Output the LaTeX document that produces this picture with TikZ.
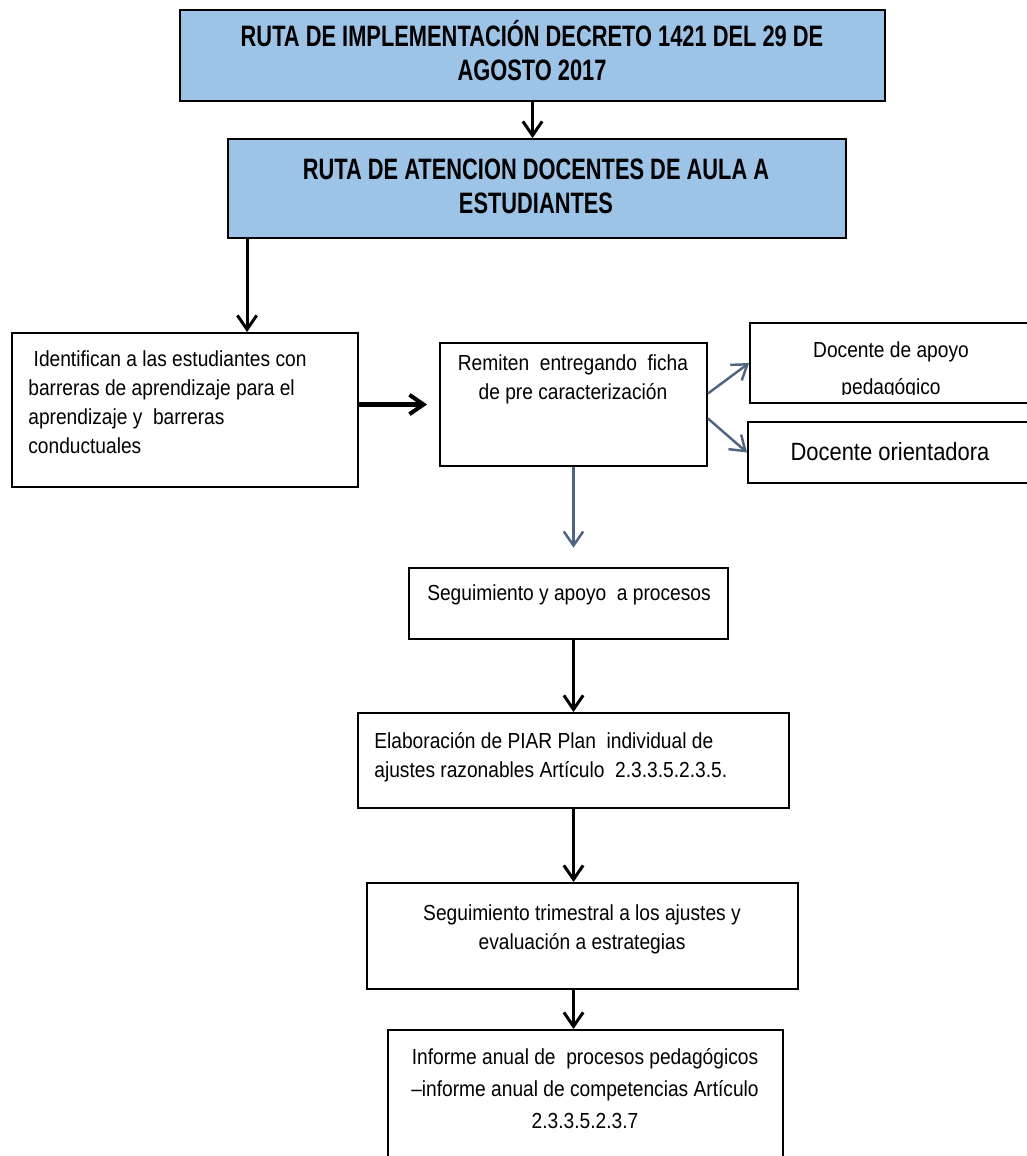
\documentclass[tikz,border=0pt]{standalone}
\usepackage{fontspec}
\newfontfamily\boxfont[FakeStretch=0.88]{Liberation Sans}
\newfontfamily\headfont[FakeStretch=0.74]{Liberation Sans}
\usepackage{tikz}
\usetikzlibrary{%
   arrows.meta,%
   calc,%
   fit,%
   positioning}
\definecolor{routeblue}{RGB}{157,195,230}
\definecolor{slatearrow}{RGB}{80,100,130}

\begin{document}
\begin{tikzpicture}
			[x=0.02cm,y=-0.02cm,
			plain box/.style= {rectangle,draw=black,line width=1.1pt,inner sep=0pt},
			blue box/.style= {plain box,fill=routeblue},
			box text/.style= {font=\boxfont\fontsize{12.4}{16.5}\selectfont,align=center,inner sep=0pt},
			head text/.style= {font=\headfont\bfseries\fontsize{16.8}{19.3}\selectfont,align=center,inner sep=0pt},
			flow arrow/.style= {-{Straight Barb[length=8pt,width=11pt]},line width=1.7pt},
			gray arrow/.style= {flow arrow,draw=slatearrow,line width=1.4pt}]
			\useasboundingbox (0,0) rectangle (1027,1156);
			\node [blue box,fit={(180,10)(885,101)}] (implementacion) {};
			\node [head text,anchor=base] (implementacion text) at (532,80)
			{RUTA DE IMPLEMENTACIÓN DECRETO 1421 DEL 29 DE\\AGOSTO 2017};
			\node [blue box,fit={(228,139)(846,238)}] (atencion) {};
			\node [head text,anchor=base] (atencion text) at (536,213)
			{RUTA DE ATENCION DOCENTES DE AULA A\\ESTUDIANTES};
			\node [plain box,fit={(12,333)(358,487)}] (identifican) {};
			\node [box text,align=left,anchor=base west] (identifican text) at (28,453)
			{\ Identifican a las estudiantes con\\barreras de aprendizaje para el\\aprendizaje y\ \ barreras\\conductuales};
			\node [plain box,fit={(440,343)(707,466)}] (remiten) {};
			\node [box text,anchor=base] (remiten text) at (573,399)
			{Remiten\ \ entregando\ \ ficha\\de pre caracterización};
			\node [plain box,fit={(750,323)(1040,403)}] (apoyo) {};
			\begin{scope}
			\clip (apoyo.north west) rectangle ($(apoyo.south east)+(0,-9)$);
			\node [box text,font=\boxfont\fontsize{12.4}{20.5}\selectfont,anchor=base] (apoyo text) at (891,394)
			{Docente de apoyo\\pedagógico};
			\end{scope}
			\node [plain box,fit={(748,422)(1040,483)}] (orientadora) {};
			\node [box text,font=\boxfont\fontsize{14.2}{17}\selectfont,anchor=base] (orientadora text) at (890,460)
			{Docente orientadora};
			\node [plain box,fit={(409,568)(728,639)}] (seguimiento) {};
			\node [box text,anchor=base] (seguimiento text) at (569,600)
			{Seguimiento y apoyo\ \ a procesos};
			\node [plain box,fit={(358,713)(789,808)}] (piar) {};
			\node [box text,align=left,anchor=base west] (piar text) at (374,777)
			{Elaboración de PIAR Plan\ \ individual de\\ajustes razonables Artículo\ \ 2.3.3.5.2.3.5.};
			\node [plain box,fit={(367,883)(798,989)}] (trimestral) {};
			\node [box text,anchor=base] (trimestral text) at (582,949)
			{Seguimiento trimestral a los ajustes y\\evaluación a estrategias};
			\node [plain box,fit={(388,1030)(783,1180)}] (informe) {};
			\node [box text,font=\boxfont\fontsize{12.4}{18}\selectfont,anchor=base] (informe text) at (585,1128)
			{Informe anual de\ \ procesos pedagógicos\\–informe anual de competencias Artículo\\2.3.3.5.2.3.7};
			\coordinate (drop) at ($(atencion.south west)+(20,0)$);
			\draw [flow arrow] (implementacion.south) -- (implementacion.south |- atencion.north);
			\draw [flow arrow] (drop) -- (drop |- identifican.north);
			\draw [flow arrow,line width=2.3pt,shorten >=6.8pt] (identifican.east |- remiten) -- (remiten.west);
			\draw [gray arrow] ($(remiten.east)+(0,-11)$) -- (apoyo.west);
			\draw [gray arrow] ($(remiten.east)+(0,14)$) -- (orientadora.west);
			\draw [gray arrow,shorten >=11pt] (remiten.south) -- (remiten.south |- seguimiento.north);
			\draw [flow arrow] (piar.north |- seguimiento.south) -- (piar.north);
			\draw [flow arrow] (piar.south) -- (piar.south |- trimestral.north);
			\draw [flow arrow] (piar.south |- trimestral.south) -- (piar.south |- informe.north);
		\end{tikzpicture}
\end{document}
